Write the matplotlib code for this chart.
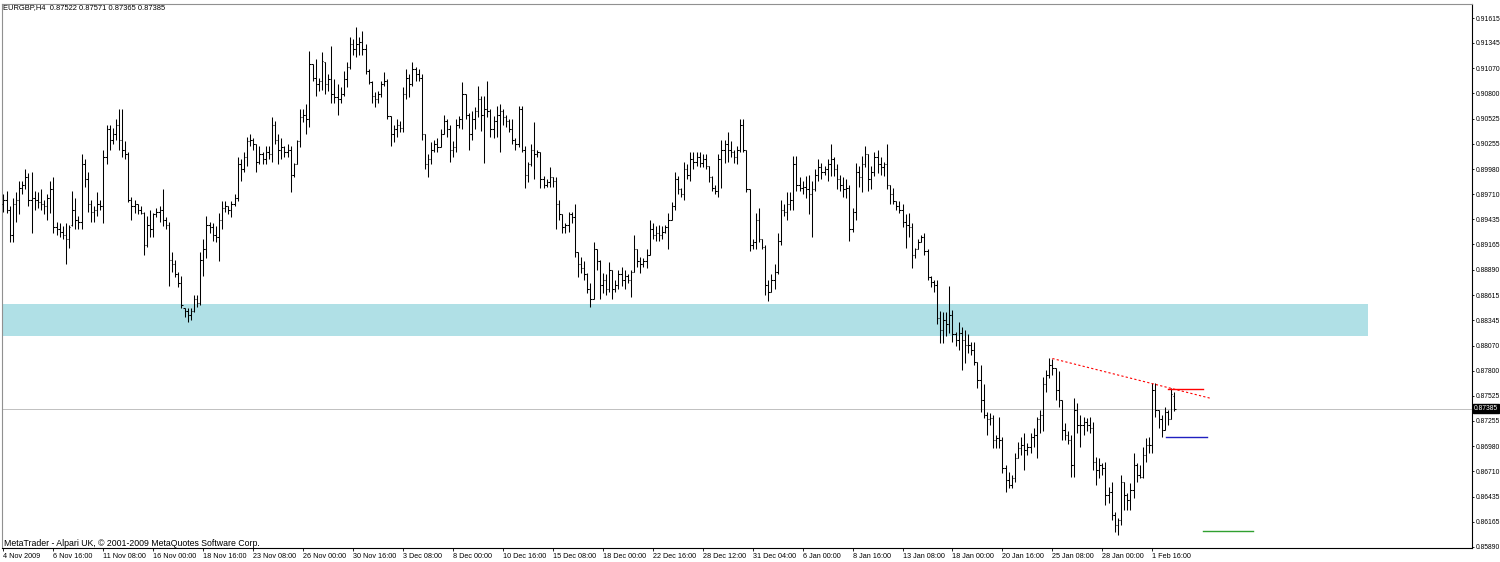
import numpy as np
import matplotlib
matplotlib.use("Agg")
import matplotlib.pyplot as plt
import matplotlib.transforms as mtransforms

plt.rcParams['font.family'] = ['Liberation Sans', 'DejaVu Sans']

# EURGBP H4 bars, prices in 1/10000 (pips)
opens = [
    8960, 8965, 8954, 8927, 8960, 8965, 8978, 8981, 8989, 8965,
    8967, 8965, 8962, 8960, 8958, 8967, 8976, 8935, 8933, 8930,
    8927, 8922, 8937, 8954, 8943, 8941, 9003, 8987, 8960, 8952,
    8954, 8960, 8958, 9011, 9041, 9030, 9036, 9046, 9030, 9019,
    9014, 8965, 8958, 8960, 8954, 8951, 8916, 8938, 8933, 8949,
    8952, 8954, 8943, 8938, 8900, 8895, 8884, 8875, 8848, 8844,
    8840, 8844, 8857, 8853, 8900, 8911, 8938, 8935, 8927, 8924,
    8943, 8956, 8958, 8954, 8960, 8967, 9003, 8998, 9011, 9028,
    9030, 9025, 9006, 9014, 9009, 9017, 9014, 9046, 9030, 9019,
    9022, 9017, 9019, 8992, 9003, 9028, 9054, 9057, 9052, 9112,
    9097, 9090, 9093, 9114, 9090, 9095, 9079, 9076, 9074, 9079,
    9095, 9108, 9133, 9128, 9133, 9136, 9128, 9104, 9092, 9077,
    9074, 9079, 9090, 9093, 9055, 9036, 9041, 9046, 9043, 9079,
    9097, 9090, 9106, 9101, 9097, 9036, 9003, 9009, 9019, 9025,
    9022, 9036, 9050, 9041, 9019, 9022, 9046, 9052, 9079, 9057,
    9036, 9052, 9061, 9074, 9057, 9063, 9061, 9041, 9050, 9057,
    9061, 9054, 9050, 9041, 9030, 9025, 9063, 9019, 8992, 9003,
    9019, 9014, 9016, 8987, 8981, 8984, 8989, 8985, 8960, 8949,
    8935, 8938, 8949, 8946, 8908, 8895, 8891, 8884, 8868, 8857,
    8911, 8898, 8873, 8878, 8868, 8889, 8868, 8873, 8884, 8878,
    8882, 8878, 8887, 8911, 8898, 8895, 8898, 8905, 8933, 8927,
    8929, 8927, 8930, 8935, 8943, 8958, 8987, 8976, 8971, 8998,
    8992, 9009, 9006, 9011, 9005, 9009, 9001, 8989, 8978, 8974,
    9009, 9019, 9025, 9019, 9017, 9011, 9019, 9046, 9019, 8976,
    8916, 8919, 8943, 8922, 8914, 8873, 8865, 8878, 8887, 8920,
    8954, 8952, 8960, 8965, 9003, 8981, 8978, 8979, 8976, 8971,
    8976, 8992, 9000, 8995, 8998, 9003, 9009, 8998, 8987, 8981,
    8976, 8978, 8933, 8952, 8995, 8989, 9003, 9014, 8987, 8995,
    9011, 9003, 9000, 9003, 8981, 8971, 8963, 8958, 8954, 8941,
    8938, 8935, 8905, 8911, 8919, 8924, 8909, 8881, 8876, 8873,
    8837, 8824, 8835, 8830, 8840, 8819, 8813, 8821, 8813, 8808,
    8808, 8802, 8789, 8770, 8748, 8732, 8727, 8729, 8705, 8707,
    8705, 8675, 8662, 8656, 8664, 8685, 8696, 8699, 8694, 8697,
    8708, 8710, 8727, 8732, 8765, 8775, 8786, 8783, 8759, 8748,
    8716, 8710, 8705, 8678, 8737, 8721, 8721, 8724, 8721, 8718,
    8681, 8672, 8678, 8675, 8645, 8649, 8624, 8613, 8618, 8659,
    8645, 8640, 8651, 8678, 8667, 8665, 8689, 8699, 8699, 8759,
    8737, 8727, 8716, 8735, 8727, 8752.2,
]
highs = [
    8971, 8974, 8958, 8967, 8973, 8985, 8985, 8998, 8994, 8995,
    8974, 8973, 8976, 8965, 8971, 8985, 8989, 8941, 8940, 8936,
    8940, 8938, 8974, 8967, 8947, 9014, 9009, 8995, 8965, 8958,
    8973, 8965, 9019, 9046, 9046, 9043, 9052, 9063, 9063, 9028,
    9017, 8968, 8965, 8960, 8958, 8952, 8947, 8954, 8951, 8956,
    8958, 8976, 8946, 8941, 8908, 8900, 8887, 8882, 8848, 8848,
    8848, 8862, 8862, 8908, 8922, 8947, 8941, 8940, 8936, 8951,
    8963, 8963, 8958, 8963, 8971, 9011, 9009, 9016, 9033, 9036,
    9032, 9025, 9023, 9017, 9023, 9023, 9054, 9050, 9036, 9032,
    9023, 9025, 9023, 9005, 9030, 9063, 9063, 9068, 9126, 9112,
    9117, 9097, 9125, 9114, 9101, 9131, 9095, 9090, 9087, 9104,
    9114, 9141, 9139, 9152, 9141, 9147, 9133, 9106, 9093, 9081,
    9082, 9093, 9103, 9095, 9055, 9046, 9052, 9050, 9087, 9106,
    9101, 9114, 9108, 9106, 9101, 9036, 9014, 9027, 9030, 9032,
    9041, 9057, 9052, 9046, 9028, 9052, 9055, 9092, 9079, 9059,
    9061, 9065, 9088, 9077, 9077, 9093, 9063, 9055, 9066, 9068,
    9063, 9057, 9052, 9052, 9032, 9066, 9066, 9023, 9006, 9025,
    9049, 9019, 9017, 8990, 8987, 9000, 8989, 8989, 8965, 8949,
    8940, 8952, 8952, 8960, 8908, 8903, 8898, 8886, 8875, 8919,
    8911, 8900, 8886, 8884, 8897, 8889, 8878, 8889, 8892, 8889,
    8884, 8889, 8927, 8911, 8903, 8902, 8911, 8943, 8940, 8936,
    8938, 8936, 8938, 8951, 8962, 8995, 8990, 8978, 9006, 9003,
    9017, 9016, 9016, 9016, 9014, 9014, 9001, 8990, 8981, 9014,
    9030, 9030, 9038, 9028, 9019, 9023, 9052, 9052, 9019, 8976,
    8922, 8951, 8956, 8922, 8916, 8878, 8884, 8895, 8929, 8965,
    8960, 8973, 8973, 9012, 9012, 8989, 8985, 8990, 8992, 8985,
    8998, 9009, 9005, 9001, 9009, 9025, 9011, 9003, 8992, 8989,
    8987, 8981, 8956, 9005, 9001, 9012, 9023, 9014, 9001, 9017,
    9019, 9011, 9006, 9025, 8981, 8978, 8963, 8963, 8960, 8949,
    8951, 8940, 8913, 8922, 8927, 8929, 8911, 8882, 8878, 8878,
    8844, 8843, 8843, 8871, 8846, 8822, 8832, 8827, 8824, 8819,
    8811, 8811, 8789, 8786, 8765, 8735, 8734, 8732, 8710, 8730,
    8708, 8678, 8670, 8667, 8691, 8703, 8708, 8712, 8702, 8712,
    8718, 8730, 8737, 8773, 8781, 8794, 8792, 8783, 8779, 8748,
    8723, 8714, 8710, 8750, 8745, 8732, 8730, 8729, 8730, 8724,
    8686, 8685, 8680, 8681, 8654, 8659, 8627, 8620, 8667, 8659,
    8647, 8658, 8691, 8680, 8678, 8697, 8707, 8708, 8767, 8767,
    8737, 8732, 8740, 8737, 8761, 8757.1,
]
lows = [
    8952, 8951, 8919, 8919, 8941, 8949, 8971, 8976, 8958, 8929,
    8954, 8956, 8954, 8949, 8943, 8951, 8929, 8927, 8924, 8922,
    8895, 8913, 8936, 8933, 8933, 8933, 8979, 8952, 8941, 8941,
    8947, 8954, 8940, 9003, 9019, 9025, 9030, 9019, 9011, 9009,
    8962, 8943, 8951, 8949, 8949, 8905, 8914, 8925, 8924, 8946,
    8941, 8936, 8933, 8871, 8887, 8881, 8870, 8848, 8838, 8832,
    8835, 8843, 8849, 8851, 8882, 8902, 8929, 8920, 8919, 8898,
    8933, 8952, 8949, 8946, 8958, 8963, 8985, 8995, 9001, 9023,
    9019, 8995, 9003, 9003, 9003, 9009, 9006, 9025, 9003, 9009,
    9011, 9011, 8973, 8989, 9003, 9022, 9049, 9036, 9044, 9093,
    9077, 9082, 9084, 9079, 9082, 9070, 9070, 9057, 9070, 9077,
    9087, 9106, 9122, 9119, 9122, 9122, 9101, 9090, 9070, 9065,
    9070, 9076, 9088, 9052, 9023, 9027, 9033, 9038, 9038, 9074,
    9076, 9088, 9093, 9093, 9030, 8998, 8989, 9003, 9016, 9016,
    9022, 9036, 9033, 9006, 9011, 9016, 9043, 9041, 9052, 9019,
    9030, 9041, 9054, 9039, 9005, 9054, 9033, 9032, 9033, 9017,
    9046, 9044, 9038, 9025, 9019, 9022, 9017, 8978, 8984, 9001,
    8987, 9011, 8978, 8978, 8979, 8979, 8979, 8933, 8943, 8929,
    8929, 8930, 8940, 8903, 8881, 8886, 8878, 8864, 8849, 8857,
    8889, 8857, 8864, 8862, 8865, 8857, 8865, 8868, 8871, 8868,
    8875, 8860, 8887, 8892, 8886, 8892, 8891, 8905, 8922, 8920,
    8920, 8922, 8929, 8911, 8943, 8954, 8971, 8968, 8965, 8987,
    8985, 8998, 9001, 9000, 9000, 8998, 8984, 8974, 8971, 8968,
    8978, 9005, 9006, 9011, 9005, 9003, 9016, 9017, 8973, 8909,
    8911, 8911, 8919, 8911, 8862, 8855, 8865, 8868, 8884, 8916,
    8947, 8943, 8954, 8954, 8974, 8974, 8971, 8967, 8949, 8924,
    8974, 8985, 8987, 8992, 8985, 8990, 8990, 8976, 8974, 8968,
    8967, 8920, 8930, 8943, 8979, 8973, 9000, 8974, 8976, 8990,
    8994, 8992, 8990, 8976, 8960, 8960, 8954, 8951, 8935, 8913,
    8925, 8891, 8902, 8911, 8919, 8905, 8878, 8870, 8865, 8830,
    8810, 8810, 8817, 8821, 8811, 8806, 8802, 8781, 8788, 8799,
    8797, 8786, 8761, 8735, 8729, 8710, 8721, 8696, 8696, 8696,
    8669, 8649, 8653, 8653, 8659, 8685, 8689, 8672, 8689, 8691,
    8697, 8685, 8712, 8714, 8757, 8772, 8775, 8748, 8740, 8705,
    8705, 8700, 8665, 8665, 8712, 8697, 8710, 8714, 8712, 8672,
    8656, 8664, 8667, 8634, 8637, 8618, 8605, 8602, 8613, 8629,
    8629, 8629, 8642, 8659, 8664, 8664, 8681, 8691, 8691, 8730,
    8718, 8708, 8716, 8721, 8727, 8736.5,
]
closes = [
    8965, 8954, 8927, 8960, 8965, 8978, 8981, 8989, 8965, 8967,
    8965, 8962, 8960, 8958, 8967, 8976, 8935, 8933, 8930, 8927,
    8922, 8935, 8954, 8943, 8941, 9003, 8987, 8960, 8952, 8954,
    8960, 8958, 9011, 9041, 9030, 9036, 9046, 9030, 9019, 9014,
    8965, 8958, 8960, 8954, 8951, 8916, 8938, 8933, 8949, 8952,
    8954, 8943, 8938, 8900, 8895, 8884, 8875, 8851, 8844, 8840,
    8844, 8857, 8853, 8900, 8911, 8938, 8935, 8927, 8924, 8943,
    8956, 8958, 8954, 8960, 8967, 9003, 8998, 9011, 9028, 9030,
    9025, 9006, 9014, 9009, 9017, 9014, 9046, 9030, 9019, 9022,
    9017, 9019, 8992, 9003, 9028, 9054, 9057, 9052, 9112, 9097,
    9090, 9093, 9115, 9090, 9095, 9079, 9076, 9074, 9079, 9095,
    9108, 9133, 9128, 9133, 9136, 9128, 9104, 9092, 9077, 9074,
    9079, 9090, 9093, 9055, 9036, 9041, 9046, 9043, 9079, 9097,
    9090, 9106, 9101, 9097, 9036, 9003, 9009, 9019, 9025, 9022,
    9036, 9050, 9041, 9019, 9022, 9046, 9052, 9079, 9057, 9036,
    9052, 9061, 9074, 9057, 9063, 9061, 9041, 9050, 9057, 9061,
    9054, 9050, 9041, 9030, 9025, 9063, 9019, 8992, 9003, 9019,
    9014, 9016, 8987, 8981, 8984, 8989, 8985, 8960, 8949, 8935,
    8938, 8949, 8946, 8908, 8895, 8891, 8884, 8868, 8857, 8911,
    8898, 8873, 8878, 8868, 8889, 8868, 8873, 8884, 8878, 8882,
    8878, 8887, 8911, 8898, 8895, 8898, 8905, 8933, 8927, 8929,
    8927, 8930, 8935, 8943, 8958, 8987, 8976, 8971, 8998, 8992,
    9009, 9006, 9011, 9005, 9009, 9001, 8989, 8978, 8974, 9009,
    9019, 9025, 9019, 9017, 9011, 9019, 9046, 9019, 8976, 8916,
    8919, 8943, 8922, 8914, 8873, 8865, 8878, 8887, 8920, 8954,
    8952, 8960, 8965, 9003, 8981, 8978, 8979, 8976, 8971, 8976,
    8992, 9000, 8995, 8998, 9003, 9009, 8998, 8987, 8981, 8976,
    8978, 8933, 8952, 8995, 8989, 9003, 9014, 8987, 8995, 9011,
    9003, 9000, 9003, 8981, 8971, 8963, 8958, 8954, 8941, 8938,
    8935, 8905, 8911, 8919, 8924, 8909, 8881, 8876, 8873, 8837,
    8824, 8835, 8830, 8840, 8819, 8813, 8821, 8813, 8808, 8808,
    8802, 8789, 8770, 8748, 8732, 8727, 8729, 8705, 8707, 8705,
    8675, 8662, 8656, 8664, 8685, 8696, 8699, 8694, 8697, 8708,
    8710, 8727, 8732, 8765, 8775, 8786, 8783, 8759, 8748, 8716,
    8710, 8705, 8678, 8737, 8721, 8721, 8724, 8721, 8718, 8681,
    8672, 8678, 8675, 8645, 8649, 8624, 8613, 8618, 8659, 8645,
    8640, 8651, 8678, 8667, 8665, 8689, 8699, 8699, 8759, 8737,
    8727, 8716, 8735, 8727, 8755, 8738.5,
]

# date labels every 16 bars
date_labels = ['4 Nov 2009', '6 Nov 16:00', '11 Nov 08:00', '16 Nov 00:00', '18 Nov 16:00',
               '23 Nov 08:00', '26 Nov 00:00', '30 Nov 16:00', '3 Dec 08:00', '8 Dec 00:00',
               '10 Dec 16:00', '15 Dec 08:00', '18 Dec 00:00', '22 Dec 16:00', '28 Dec 12:00',
               '31 Dec 04:00', '6 Jan 00:00', '8 Jan 16:00', '13 Jan 08:00', '18 Jan 00:00',
               '20 Jan 16:00', '25 Jan 08:00', '28 Jan 00:00', '1 Feb 16:00']
price_ticks = [0.91615, 0.91345, 0.91070, 0.90800, 0.90525, 0.90255, 0.89980, 0.89710,
               0.89435, 0.89165, 0.88890, 0.88615, 0.88345, 0.88070, 0.87800, 0.87525,
               0.87255, 0.86980, 0.86710, 0.86435, 0.86165, 0.85890]

last_price = 0.87385
zone_low, zone_high = 0.8817, 0.8852
zone_end = 437      # bar index where the rectangle ends
trend_x = [336, 386.6]
trend_y = [0.8793, 0.8750]
red_level, red_x = 0.8760, [373.1, 384.3]
blue_level, blue_x = 0.8708, [372.5, 385.6]
green_level, green_x = 0.8606, [384.3, 400.3]

o = np.array(opens) / 1e4
h = np.array(highs) / 1e4
l = np.array(lows) / 1e4
c = np.array(closes) / 1e4
idx = np.arange(len(c))

fig = plt.figure(figsize=(15, 5.62), dpi=100)
ax = fig.add_axes([0.001, 0.0249, 0.9803, 0.968])

ax.fill_between([-1, zone_end], zone_low, zone_high, color='#b0e0e6', lw=0, zorder=1)
ax.axhline(last_price, color='#c0c0c0', lw=0.7, zorder=1.5)

ax.vlines(idx, l, h, color='black', lw=0.75, zorder=3)
ax.hlines(o, idx - 0.45, idx, color='black', lw=0.75, zorder=3)
ax.hlines(c, idx, idx + 0.45, color='black', lw=0.75, zorder=3)

ax.plot(trend_x, trend_y, color='red', lw=0.8, ls=(0, (2, 2)), zorder=4)
ax.plot(red_x, [red_level] * 2, color='red', lw=1.0, zorder=4)
ax.plot(blue_x, [blue_level] * 2, color='#2020c0', lw=1.0, zorder=4)
ax.plot(green_x, [green_level] * 2, color='#30a030', lw=1.0, zorder=4)

ax.set_xlim(-0.64, 470.4)
ax.set_ylim(0.85879, 0.91767)

for side, s in ax.spines.items():
    s.set_linewidth(0.8)
    s.set_color('black' if side in ('right', 'bottom') else '#909090')

ax.yaxis.tick_right()
ax.set_yticks(price_ticks)
ax.set_yticklabels(['%.5f' % p for p in price_ticks])
ax.tick_params(axis='y', length=1.5, width=0.6, pad=1, labelsize=4.9)

ax.set_xticks(np.arange(len(date_labels)) * 16)
ax.set_xticklabels(date_labels, ha='left')
ax.tick_params(axis='x', length=2.5, width=0.6, pad=1, labelsize=5.2)

trans = mtransforms.blended_transform_factory(ax.transAxes, ax.transData)
ax.text(1.0015, last_price, '%.5f' % last_price, transform=trans, ha='left', va='center',
        fontsize=4.9, color='white', zorder=6,
        bbox=dict(facecolor='black', edgecolor='black', pad=0.7))

fig.text(0.002, 0.987, 'EURGBP,H4  0.87522 0.87571 0.87365 0.87385', fontsize=5.4,
         ha='left', va='center')
fig.text(0.0027, 1 - 543 / 562, 'MetaTrader - Alpari UK, \u00a9 2001-2009 MetaQuotes Software Corp.',
         fontsize=6.3, ha='left', va='center')

fig.savefig('out.png', dpi=100)
